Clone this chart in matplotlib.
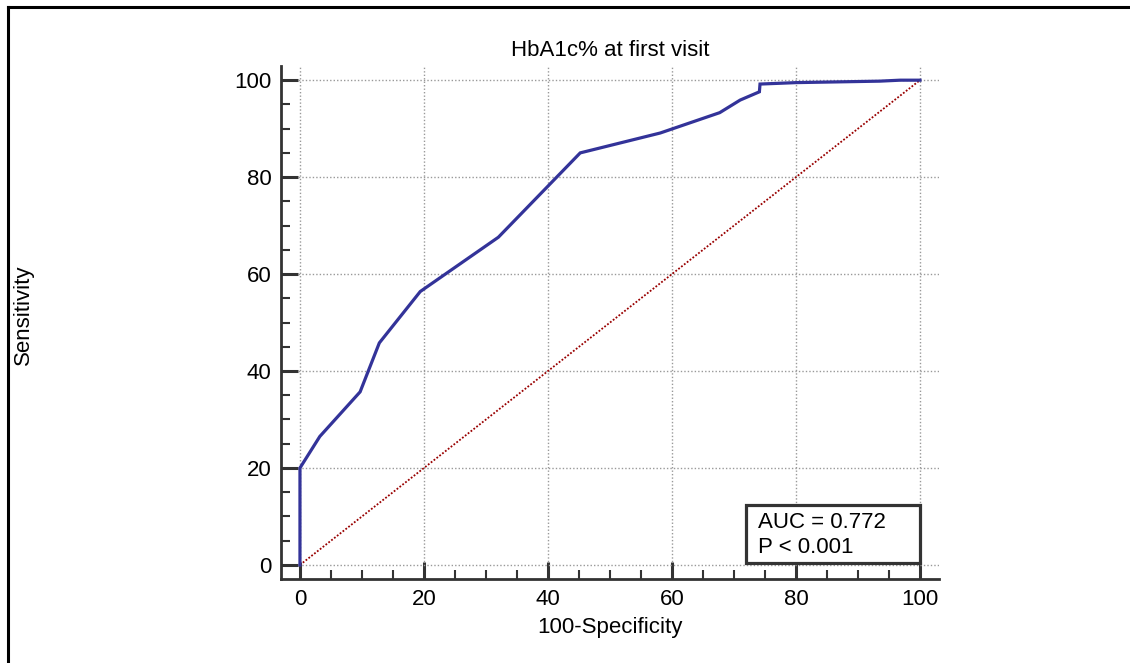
import matplotlib
matplotlib.use("Agg")
import matplotlib.pyplot as plt
from matplotlib.lines import Line2D
from matplotlib.patches import Rectangle
from matplotlib.ticker import MultipleLocator

# ROC curve (100-Specificity, Sensitivity)
fpr = [0, 0, 3.2, 9.7, 12.8, 19.4, 32.0, 45.2, 58.1, 67.7, 71.0, 74.1, 74.2, 80.1, 93.5, 96.8, 100]
tpr = [0, 20, 26.5, 35.7, 45.8, 56.4, 67.6, 85.0, 89.1, 93.3, 95.9, 97.6, 99.2, 99.5, 99.8, 100, 100]
ref = [0, 100]

title = "HbA1c% at first visit"
auc_text = "AUC = 0.772"
p_text = "P < 0.001"

plt.rcParams['font.family'] = ['Liberation Sans', 'DejaVu Sans']

fig = plt.figure(figsize=(11.3, 6.63), dpi=100)
ax = fig.add_axes([0.249, 0.126, 0.5816, 0.775])

ax.plot(ref, ref, color='#990000', linestyle=(0, (1, 1)), linewidth=1.3, zorder=2)
ax.plot(fpr, tpr, color='#333399', linewidth=2.3, solid_joinstyle='miter', zorder=3)

ax.set_xlim(-3, 103)
ax.set_ylim(-3, 103)
ax.xaxis.set_major_locator(MultipleLocator(20))
ax.yaxis.set_major_locator(MultipleLocator(20))
ax.xaxis.set_minor_locator(MultipleLocator(5))
ax.yaxis.set_minor_locator(MultipleLocator(5))
ax.grid(True, which='major', color='#999999', linestyle=(0, (1, 1.5)), linewidth=1.0, zorder=0)

for s in ['top', 'right']:
    ax.spines[s].set_visible(False)
for s in ['left', 'bottom']:
    ax.spines[s].set_color('#333333')
    ax.spines[s].set_linewidth(2.0)

ax.tick_params(which='major', direction='in', length=12.5, width=2.2, color='#333333',
               labelsize=16, pad=7)
ax.tick_params(which='minor', direction='in', length=6.5, width=1.5, color='#333333')

ax.set_title(title, fontsize=16, pad=7)
fig.text(0.5 * (0.249 * 2 + 0.5816), 1 - 627 / 663, "100-Specificity", fontsize=16,
         ha='center', va='center')
fig.text(23 / 1130, 1 - 315 / 663, "Sensitivity", fontsize=16, rotation=90,
         ha='center', va='center')

# AUC box
ax.add_patch(Rectangle((0.7065, 0.0327), 0.2652, 0.1123, transform=ax.transAxes,
                       facecolor='white', edgecolor='#333333', linewidth=2.3, zorder=4))
ax.text(0.725, 0.110, auc_text, transform=ax.transAxes, fontsize=16, va='center', zorder=5)
ax.text(0.725, 0.0619, p_text, transform=ax.transAxes, fontsize=16, va='center', zorder=5)

# frame around the figure (top and left edges)
fig.add_artist(Line2D([8 / 1130, 1.0], [1 - 7 / 663, 1 - 7 / 663], color='black', linewidth=2.2))
fig.add_artist(Line2D([8 / 1130, 8 / 1130], [0.0, 1 - 7 / 663], color='black', linewidth=2.2))

fig.savefig("out.png", dpi=100)
